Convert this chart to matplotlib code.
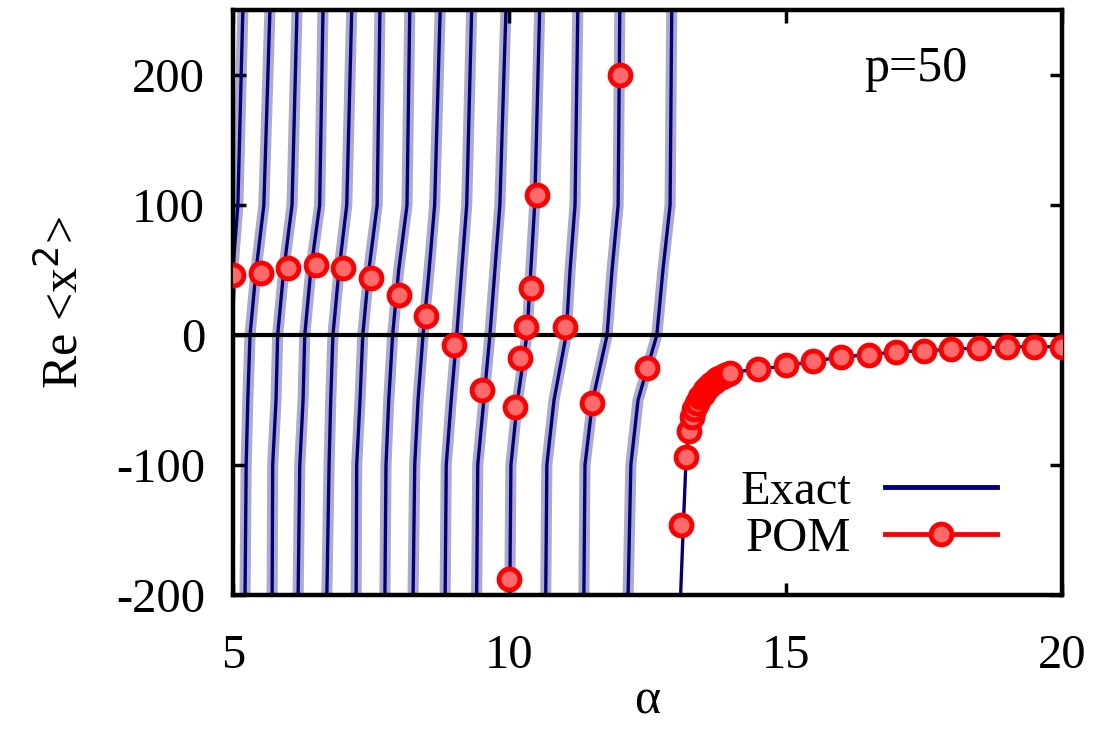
import numpy as np
import matplotlib.pyplot as plt
from matplotlib.lines import Line2D

exact_y = [-200, -100, -50, 0, 50, 100, 250]
exact_branches = [
    [4.70, 4.75, 4.80, 4.88, 5.00, 5.09, 5.18],
    [5.22, 5.24, 5.27, 5.31, 5.42, 5.56, 5.67],
    [5.71, 5.72, 5.78, 5.81, 5.92, 6.07, 6.16],
    [6.18, 6.21, 6.27, 6.30, 6.41, 6.57, 6.63],
    [6.70, 6.74, 6.77, 6.81, 6.92, 7.06, 7.15],
    [7.23, 7.24, 7.30, 7.35, 7.46, 7.61, 7.66],
    [7.75, 7.77, 7.82, 7.89, 8.00, 8.15, 8.20],
    [8.26, 8.29, 8.35, 8.44, 8.55, 8.65, 8.75],
    [8.84, 8.86, 8.95, 9.05, 9.14, 9.23, 9.32],
    [9.41, 9.43, 9.54, 9.65, 9.74, 9.83, 9.94],
    [10.01, 10.03, 10.15, 10.32, 10.39, 10.46, 10.55],
    [10.66, 10.68, 10.81, 11.03, 11.10, 11.19, 11.24],
    [11.35, 11.37, 11.51, 11.77, 11.86, 11.97, 12.00],
    [12.15, 12.20, 12.33, 12.67, 12.78, 12.91, 12.94],
]
# last branch, bends over and flattens out
exact_tail_a = [13.10, 13.15, 13.20, 13.25, 13.30, 13.40, 13.50, 13.60, 13.70, 13.80,
                13.90, 14.00, 14.50, 15.00, 15.50, 16.00, 17.00, 18.00, 19.00, 20.00]
exact_tail_y = [-200, -146, -94, -74, -63, -52, -45, -40, -36, -33,
                -31, -29, -26, -24, -20, -17, -13, -11, -9, -9]

# POM
pom_a = [5.0, 5.5, 6.0, 6.5, 7.0, 7.5, 8.0, 8.5, 9.0, 9.5,
         10.0, 10.1, 10.2, 10.3, 10.4, 10.5, 11.0, 11.5, 12.0, 12.5,
         13.1, 13.2, 13.25, 13.3, 13.35, 13.4, 13.45, 13.5, 13.55, 13.6,
         13.65, 13.7, 13.75, 13.8, 13.85, 13.9, 13.95, 14.0,
         14.5, 15.0, 15.5, 16.0, 16.5, 17.0, 17.5, 18.0, 18.5, 19.0, 19.5, 20.0]
pom_y = [46, 48, 52, 54, 52, 44, 31, 15, -8, -42,
         -188, -55, -18, 6, 36, 108, 6, -52, 200, -25,
         -146, -94, -74, -63, -57, -52, -48, -45, -42, -40,
         -38, -36, -34, -33, -32, -31, -30, -29,
         -26, -23, -20, -17, -15, -13, -12, -11, -10, -9, -9, -9]

plt.rcParams['font.family'] = 'Liberation Serif'
plt.rcParams['axes.unicode_minus'] = False

fig = plt.figure(figsize=(11.09, 7.30), dpi=100)
ax = fig.add_axes([0.210, 0.185, 0.7476, 0.801])

for br in exact_branches:
    ax.plot(br, exact_y, color='#acacca', lw=8, solid_capstyle='butt', zorder=1)
    ax.plot(br, exact_y, color='#000080', lw=2.4, zorder=2)
ax.plot(exact_tail_a, exact_tail_y, color='#000080', lw=2.4, zorder=2)

ax.axhline(0, color='black', lw=3, zorder=3)

mk = dict(marker='o', ms=15, mfc='#ff6a6a', mec='red', mew=3.5)
ax.plot(pom_a, pom_y, ls='none', zorder=4, **mk)

ax.set_xlim(5, 20)
ax.set_ylim(-200, 250)
ax.set_xticks([5, 10, 15, 20])
ax.set_yticks([-200, -100, 0, 100, 200])
ax.tick_params(direction='in', length=9, width=2.5, top=True, right=True,
               labelsize=35)
ax.tick_params(axis='y', pad=20)
ax.tick_params(axis='x', pad=28)
for s in ax.spines.values():
    s.set_linewidth(3.2)

ax.set_xlabel('α', fontsize=36, labelpad=0)
ax.set_ylabel('Re <x$^2$>', fontsize=36, labelpad=20)

ax.text(0.762, 0.90, 'p=50', transform=ax.transAxes, fontsize=36,
        ha='left', va='center')

handles = [Line2D([], [], color='#000080', lw=3.5),
           Line2D([], [], color='red', lw=3.5, **mk)]
ax.legend(handles, ['Exact', 'POM'], loc='lower right', markerfirst=False,
          frameon=False, fontsize=35, handlelength=2.3, handletextpad=0.7,
          labelspacing=0.05, borderaxespad=0.0, bbox_to_anchor=(0.945, 0.025))

fig.savefig('out.png', dpi=100)
